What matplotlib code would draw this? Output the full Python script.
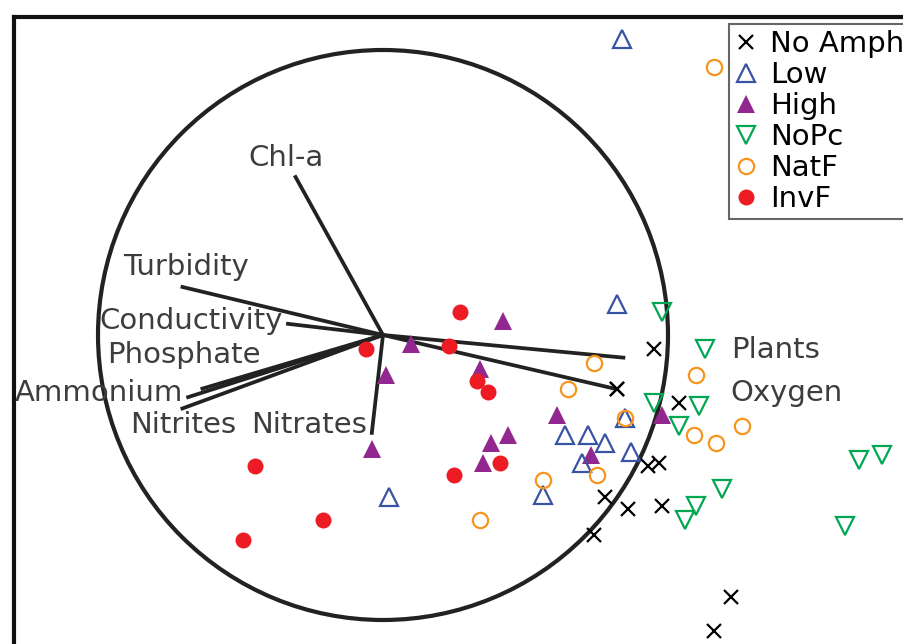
import numpy as np
import matplotlib.pyplot as plt
from matplotlib.patches import Circle

# site scores (axis units, correlation circle radius = 1)
noamph_x = [0.95, 0.82, 0.82, 1.04, 0.93, 0.97, 0.78, 0.86, 0.98, 0.74, 1.22, 1.16]
noamph_y = [-0.05, -0.19, -0.19, -0.24, -0.46, -0.45, -0.57, -0.61, -0.60, -0.70, -0.92, -1.04]
low_x = [0.84, 0.82, 0.64, 0.72, 0.78, 0.85, 0.87, 0.70, 0.56, 0.02]
low_y = [1.04, 0.11, -0.35, -0.35, -0.38, -0.29, -0.41, -0.45, -0.56, -0.57]
high_x = [0.42, 0.10, 0.01, 0.34, 0.61, 0.98, -0.04, 0.44, 0.38, 0.35, 0.73]
high_y = [0.05, -0.03, -0.14, -0.12, -0.28, -0.28, -0.40, -0.35, -0.38, -0.45, -0.42]
nopc_x = [0.98, 1.13, 0.95, 1.11, 1.04, 1.67, 1.75, 1.19, 1.10, 1.06, 1.62]
nopc_y = [0.08, -0.05, -0.24, -0.25, -0.32, -0.44, -0.42, -0.54, -0.60, -0.65, -0.67]
natf_x = [1.16, 0.74, 0.65, 0.85, 1.10, 1.26, 1.09, 1.17, 0.75, 0.56, 0.34]
natf_y = [0.94, -0.10, -0.19, -0.29, -0.14, -0.32, -0.35, -0.38, -0.49, -0.51, -0.65]
invf_x = [0.27, 0.23, -0.06, 0.33, 0.37, 0.41, 0.25, -0.45, -0.21, -0.49]
invf_y = [0.08, -0.04, -0.05, -0.16, -0.20, -0.45, -0.49, -0.46, -0.65, -0.72]

# environmental vectors
env_names = ["Chl-a", "Turbidity", "Conductivity", "Phosphate", "Ammonium",
             "Nitrites", "Nitrates", "Plants", "Oxygen"]
env_x = [-0.31, -0.71, -0.34, -0.64, -0.69, -0.71, -0.04, 0.85, 0.82]
env_y = [0.56, 0.17, 0.04, -0.19, -0.22, -0.26, -0.35, -0.08, -0.19]
lab_x = [-0.34, -0.69, -0.35, -0.70, -0.70, -0.70, -0.055, 1.22, 1.22]
lab_y = [0.62, 0.24, 0.05, -0.07, -0.205, -0.315, -0.315, -0.053, -0.205]
lab_ha = ["center", "center", "right", "center", "right", "center", "right", "left", "left"]

fig = plt.figure(figsize=(9.04, 6.44), dpi=100)
ppu = 285.0  # pixels per axis unit
ax = fig.add_axes([14 / 904, (644 - 717) / 644, 1000 / 904, 700 / 644])
ax.set_xlim(-369 / ppu, 631 / ppu)
ax.set_ylim(-382 / ppu, 318 / ppu)
ax.set_xticks([])
ax.set_yticks([])
for s in ax.spines.values():
    s.set_linewidth(3)
    s.set_color("#111111")

ax.add_patch(Circle((0, 0), 1.0, fill=False, lw=3, ec="#222222", zorder=1))
for ex, ey in zip(env_x, env_y):
    ax.plot([0, ex], [0, ey], color="#222222", lw=2.7, solid_capstyle="butt", zorder=2)
for name, tx, ty, ha in zip(env_names, lab_x, lab_y, lab_ha):
    ax.text(tx, ty, name, ha=ha, va="center", fontsize=21, color="#3d3d3d", zorder=3)

ax.plot(noamph_x, noamph_y, ls="none", marker="x", ms=10, mew=1.6, color="black",
        label="No Amph", zorder=5)
ax.plot(low_x, low_y, ls="none", marker="^", ms=13, mew=1.6, mfc="none", mec="#3953a4",
        label="Low", zorder=5)
ax.plot(high_x, high_y, ls="none", marker="^", ms=13, mew=0, color="#92278f",
        label="High", zorder=4)
ax.plot(nopc_x, nopc_y, ls="none", marker="v", ms=13, mew=1.6, mfc="none", mec="#00a651",
        label="NoPc", zorder=5)
ax.plot(natf_x, natf_y, ls="none", marker="o", ms=11, mew=1.6, mfc="none", mec="#f7941d",
        label="NatF", zorder=6)
ax.plot(invf_x, invf_y, ls="none", marker="o", ms=11.5, mew=0, color="#ed1c24",
        label="InvF", zorder=6)

leg = ax.legend(loc="upper left", bbox_to_anchor=(729 / 904, 1 - 24 / 644),
                bbox_transform=fig.transFigure, borderaxespad=0, fontsize=21,
                frameon=True, fancybox=False, framealpha=1, edgecolor="#666666",
                borderpad=0.22, labelspacing=0.1, handlelength=0.75, handletextpad=0.45,
                numpoints=1)
leg.get_frame().set_linewidth(1.5)

fig.savefig("out.png", dpi=100)
